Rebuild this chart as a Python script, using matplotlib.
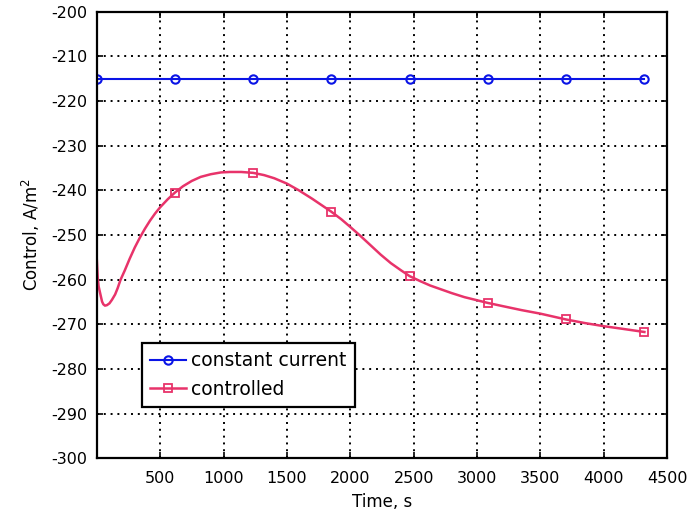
import matplotlib
matplotlib.use('Agg')
import matplotlib.pyplot as plt

# constant current run
t_const = [0, 617, 1234, 1851, 2468, 3085, 3702, 4320]
u_const = [-215, -215, -215, -215, -215, -215, -215, -215]

# controlled run
t_ctrl = [0, 8, 15, 26, 42, 52, 65, 80, 100, 120, 145, 165, 188, 220, 260,
          300, 340, 380, 420, 460, 500, 560, 617, 680, 750, 820, 900, 980,
          1050, 1140, 1234, 1320, 1400, 1500, 1594, 1700, 1851, 1930, 2000,
          2080, 2160, 2240, 2320, 2400, 2468, 2550, 2630, 2700, 2800, 2900,
          3000, 3085, 3200, 3350, 3500, 3702, 3850, 4000, 4150, 4320]
u_ctrl = [-255.2, -259.6, -261.5, -262.9, -264.9, -265.5, -265.8, -265.7,
          -265.3, -264.5, -263.3, -261.9, -260.0, -258.0, -255.3, -252.8,
          -250.6, -248.6, -246.8, -245.2, -243.8, -242.0, -240.5, -239.1,
          -237.9, -237.0, -236.4, -236.0, -235.9, -235.9, -236.1, -236.6,
          -237.3, -238.5, -240.0, -241.9, -244.8, -246.5, -248.2, -250.2,
          -252.3, -254.4, -256.3, -257.9, -259.2, -260.3, -261.3, -262.0,
          -263.0, -263.9, -264.6, -265.2, -265.9, -266.8, -267.6, -268.9,
          -269.7, -270.4, -271.0, -271.7]
ctrl_marks = [t_ctrl.index(t) for t in t_const[1:]]

x_ticks = [500, 1000, 1500, 2000, 2500, 3000, 3500, 4000, 4500]
y_ticks = list(range(-300, -199, 10))

plt.rcParams['axes.unicode_minus'] = False
plt.rcParams['font.family'] = ['DejaVu Sans']

fig = plt.figure(figsize=(6.89, 5.14), dpi=100)
ax = fig.add_axes([0.1404, 0.108, 0.828, 0.8696])

ax.plot(t_const, u_const, color='#0a14e6', lw=1.5, marker='o', ms=6,
        mfc='none', mew=1.5, label='constant current')
ax.plot(t_ctrl, u_ctrl, color='#e8336a', lw=1.8, marker='s', ms=6,
        mfc='none', mew=1.3, markevery=ctrl_marks, label='controlled')

ax.set_xlim(0, 4500)
ax.set_ylim(-300, -200)
ax.set_xticks(x_ticks)
ax.set_yticks(y_ticks)
ax.grid(True, color='black', linestyle=(0, (1, 2.5)), linewidth=1.4)
ax.tick_params(direction='in', top=True, right=True, length=4, width=1.2,
               labelsize=11.5)
ax.tick_params(axis='x', pad=9)
ax.tick_params(axis='y', pad=7)
for s in ax.spines.values():
    s.set_linewidth(1.6)

ax.set_xlabel('Time, s', fontsize=12, labelpad=5)
ax.set_ylabel('Control, A/m$^2$', fontsize=12, labelpad=6)

leg = ax.legend(loc='lower left', bbox_to_anchor=(0.079, 0.115),
                borderaxespad=0, fontsize=13.5, fancybox=False,
                edgecolor='black', framealpha=1, handlelength=1.9,
                handletextpad=0.3, borderpad=0.45, labelspacing=0.5)
leg.get_frame().set_linewidth(1.6)

fig.savefig('out.png', dpi=100)
